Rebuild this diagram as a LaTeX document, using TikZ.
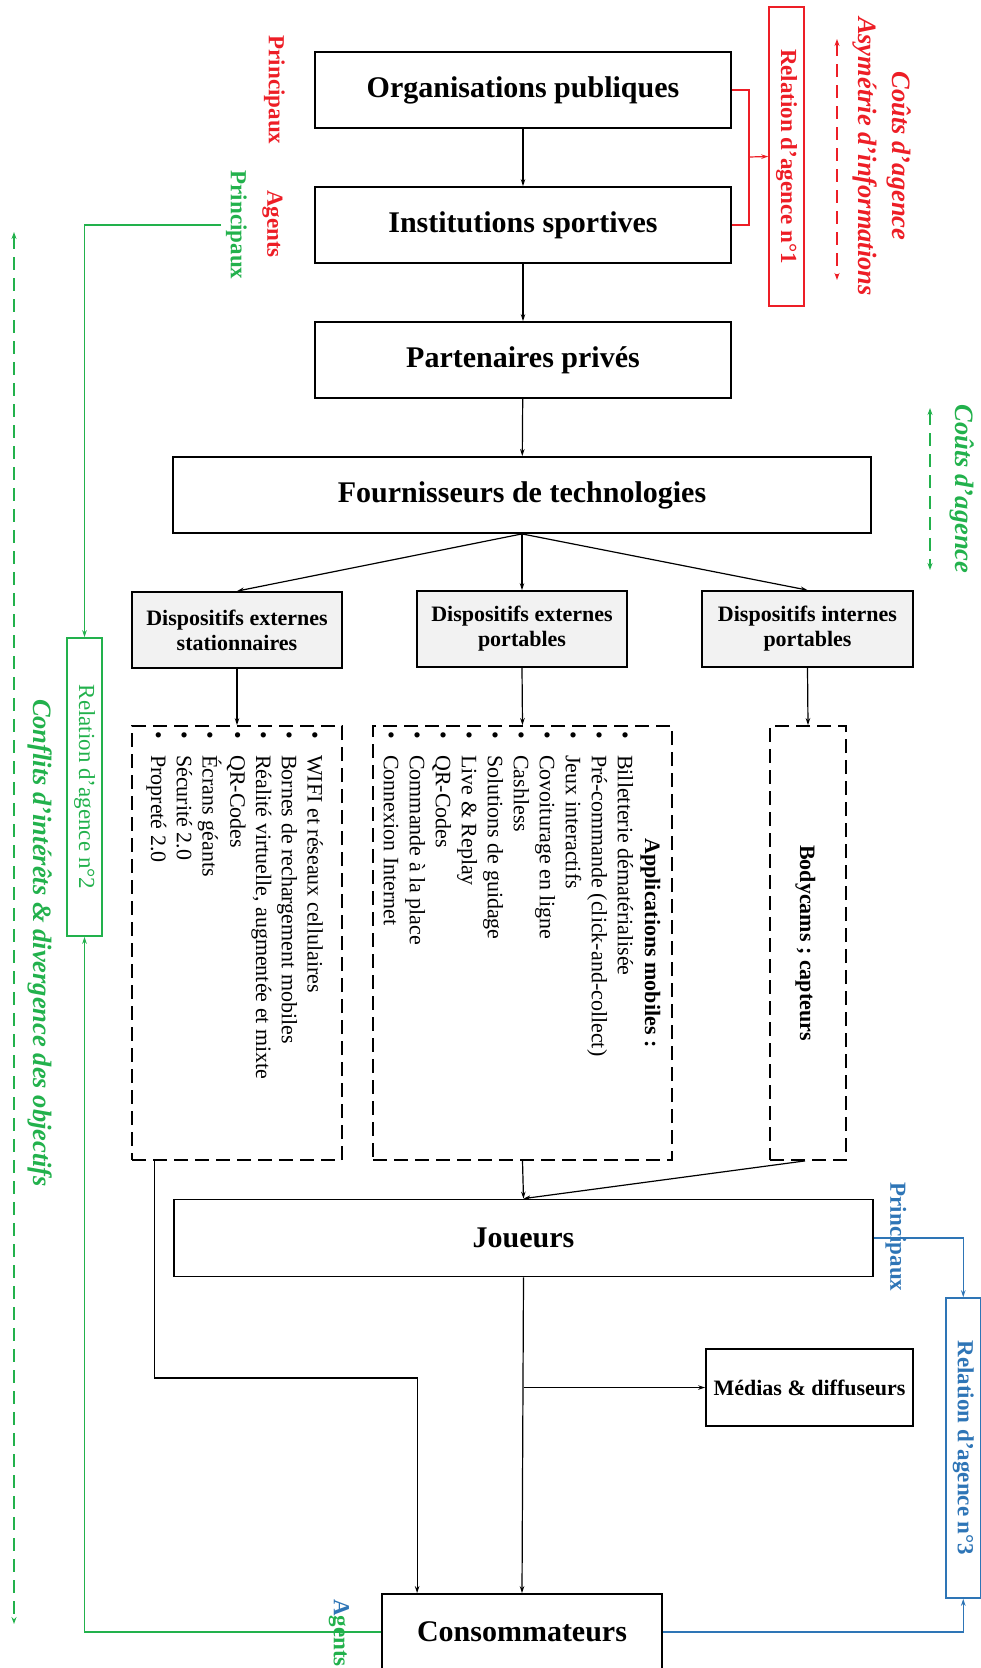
\documentclass[tikz,border=0pt]{standalone}
\usepackage{fontspec}
\setmainfont{Liberation Serif}
\usetikzlibrary{arrows.meta,calc}
\definecolor{cred}{RGB}{237,30,38}
\definecolor{cgreen}{RGB}{34,177,76}
\definecolor{cblue}{RGB}{46,117,182}
\definecolor{cgray}{RGB}{242,242,242}
\newcommand{\fsz}[2]{\fontsize{#1}{#2}\selectfont}
\newcommand{\litem}{\strut\makebox[24pt][l]{\textbullet}}
\begin{document}
\begin{tikzpicture}[x=1pt,y=-1pt,
  mainbox/.style={draw,line width=1.8pt,inner sep=0pt,font=\fsz{30}{36}\bfseries},
  subbox/.style={draw,line width=1.8pt,fill=cgray,inner sep=0pt,align=center,font=\fsz{22}{25}\bfseries},
  dbox/.style={draw,line width=1.8pt,dash pattern=on 14pt off 7pt,inner sep=0pt},
  relbox/.style={draw,line width=1.5pt,rotate=-90,inner sep=0pt},
  vlab/.style={rotate=-90,inner sep=0pt},
  arr/.style={line width=1.2pt,-{Stealth[length=7pt,width=4.5pt]}},
  conn/.style={line width=1.2pt},
  darr/.style={line width=2pt,dash pattern=on 13pt off 8pt,{Stealth[length=7pt,width=5pt]}-{Stealth[length=7pt,width=5pt]}},
]
\useasboundingbox (0,0) rectangle (981,1668);
\clip (0,0) rectangle (981,1668);

% main chain
\node[mainbox,minimum width=416,minimum height=76] (org) at (523,90) {Organisations publiques};
\node[mainbox,minimum width=416,minimum height=76] (inst) at (523,225) {Institutions sportives};
\node[mainbox,minimum width=416,minimum height=76] (part) at (523,360) {Partenaires privés};
\node[mainbox,minimum width=698,minimum height=76] (four) at (522,495) {Fournisseurs de technologies};

\node[subbox,minimum width=210,minimum height=76] (sta) at (237,630) {Dispositifs externes\\stationnaires};
\node[subbox,minimum width=210,minimum height=76] (ext) at (522,629) {Dispositifs externes\\portables};
\node[subbox,minimum width=211,minimum height=76] (int) at (807.5,629) {Dispositifs internes\\portables};

\node[dbox,minimum width=210,minimum height=434] (d1) at (237,943) {};
\node[dbox,minimum width=299,minimum height=434] (d2) at (522.5,943) {};
\node[dbox,minimum width=76,minimum height=434] (d3) at (808,943) {};

\node[vlab,anchor=north west,align=left,font=\fsz{22}{25.8}] (list1) at (326,731)
 {\litem WIFI et réseaux cellulaires\\
  \litem Bornes de rechargement mobiles\\
  \litem Réalité virtuelle, augmentée et mixte\\
  \litem QR-Codes\\
  \litem Écrans géants\\
  \litem Sécurité 2.0\\
  \litem Propreté 2.0};
\node[vlab,anchor=base,font=\fsz{22}{26}\bfseries] (apptitle) at (645,943) {Applications mobiles :};
\node[vlab,anchor=north west,align=left,font=\fsz{22}{26}] (list2) at (636.2,731)
 {\litem Billetterie dématérialisée\\
  \litem Pré-commande (click-and-collect)\\
  \litem Jeux interactifs\\
  \litem Covoiturage en ligne\\
  \litem Cashless\\
  \litem Solutions de guidage\\
  \litem Live \& Replay\\
  \litem QR-Codes\\
  \litem Commande à la place\\
  \litem Connexion Internet};
\node[vlab,anchor=base,font=\fsz{22}{26}\bfseries] (body) at (800,943) {Bodycams ; capteurs};

\node[mainbox,minimum width=699,minimum height=77] (joueurs) at (523.5,1238) {Joueurs};
\node[draw,line width=1.8pt,inner sep=0pt,minimum width=207,minimum height=77,font=\fsz{22}{26}\bfseries] (medias) at (809.5,1387.5) {Médias \& diffuseurs};
\node[mainbox,minimum width=280,minimum height=76] (cons) at (522,1632) {Consommateurs};

% black connectors
\draw[arr] (org) -- (inst);
\draw[arr] (inst) -- (part);
\draw[arr] (part) -- (four);
\draw[arr] (four.south) -- (sta.north);
\draw[arr] (four.south) -- (ext.north);
\draw[arr] (four.south) -- (int.north);
\draw[arr] (sta.south) -- (d1.north);
\draw[arr] (ext.south) -- (d2.north);
\draw[arr] (int.south) -- (d3.north);
\draw[arr] (d2.south) -- (joueurs.north);
\draw[arr] ([xshift=-3pt]d3.south) -- (joueurs.north);
\draw[arr] ([xshift=23pt]d1.south west) -- ++(0,217) -| ([xshift=36pt]cons.north west);
\draw[arr] (joueurs.south) -- (cons.north);
\draw[arr] (joueurs.south |- medias.west) -- (medias.west);

% red relation 1
\node[relbox,draw=cred,text=cred,minimum width=299,minimum height=35,font=\fsz{23}{27}\bfseries] (rel1) at (786.5,156.5) {Relation d’agence n°1};
\coordinate (rj) at (749,157);
\draw[conn,cred] (org.east) -| (rj) |- (inst.east);
\draw[arr,cred] (rj) -- (rel1.south);
\node[vlab,text=cred,font=\fsz{23}{27}\bfseries] (rprinc) at (274.5,90) {Principaux};
\node[vlab,text=cred,font=\fsz{23}{27}\bfseries] (ragents) at (272.5,224) {Agents};
\coordinate (rdt) at (837,39);
\coordinate (rdb) at (837,280);
\draw[darr,cred] (rdt) -- (rdb);
\node[vlab,text=cred,font=\fsz{26.5}{30}\bfseries\itshape] (asym) at (865,156.5) {Asymétrie d’informations};
\node[vlab,text=cred,font=\fsz{26.5}{30}\bfseries\itshape] (rcouts) at (899,156) {Coûts d’agence};

% green relation 2
\node[relbox,draw=cgreen,text=cgreen,minimum width=298,minimum height=35,font=\fsz{23}{27}] (rel2) at (84.5,787) {Relation d’agence n°2};
\node[vlab,text=cgreen,font=\fsz{23}{27}\bfseries] (gprinc) at (236.5,225) {Principaux};
\coordinate (gstart) at (221,225);
\draw[arr,cgreen] (gstart) -| (rel2.west);
\draw[arr,cgreen] (cons.west) -| (rel2.east);
\coordinate (gdt) at (14,232);
\coordinate (gdb) at (14,1624);
\draw[darr,cgreen] (gdt) -- (gdb);
\node[vlab,text=cgreen,font=\fsz{26.5}{30}\bfseries\itshape] (conflits) at (40,943) {Conflits d’intérêts \& divergence des objectifs};
\coordinate (gct) at (930,408);
\coordinate (gcb) at (930,570);
\draw[darr,cgreen] (gct) -- (gcb);
\node[vlab,text=cgreen,font=\fsz{26.5}{30}\bfseries\itshape] (gcouts) at (962.5,489) {Coûts d’agence};

% blue relation 3
\node[relbox,draw=cblue,text=cblue,minimum width=300,minimum height=34.5,font=\fsz{23}{27}\bfseries] (rel3) at (963.25,1448) {Relation d’agence n°3};
\draw[arr,cblue] (joueurs.east) -| (rel3.west);
\draw[arr,cblue] (cons.east) -| (rel3.east);
\node[vlab,text=cblue,font=\fsz{23}{27}\bfseries] (bprinc) at (896,1237) {Principaux};
\node[vlab,anchor=west,font=\fsz{23}{27}\bfseries] (agents) at (339,1599) {\textcolor{cblue}{A}\textcolor{cgreen}{gents}};
\end{tikzpicture}
\end{document}
